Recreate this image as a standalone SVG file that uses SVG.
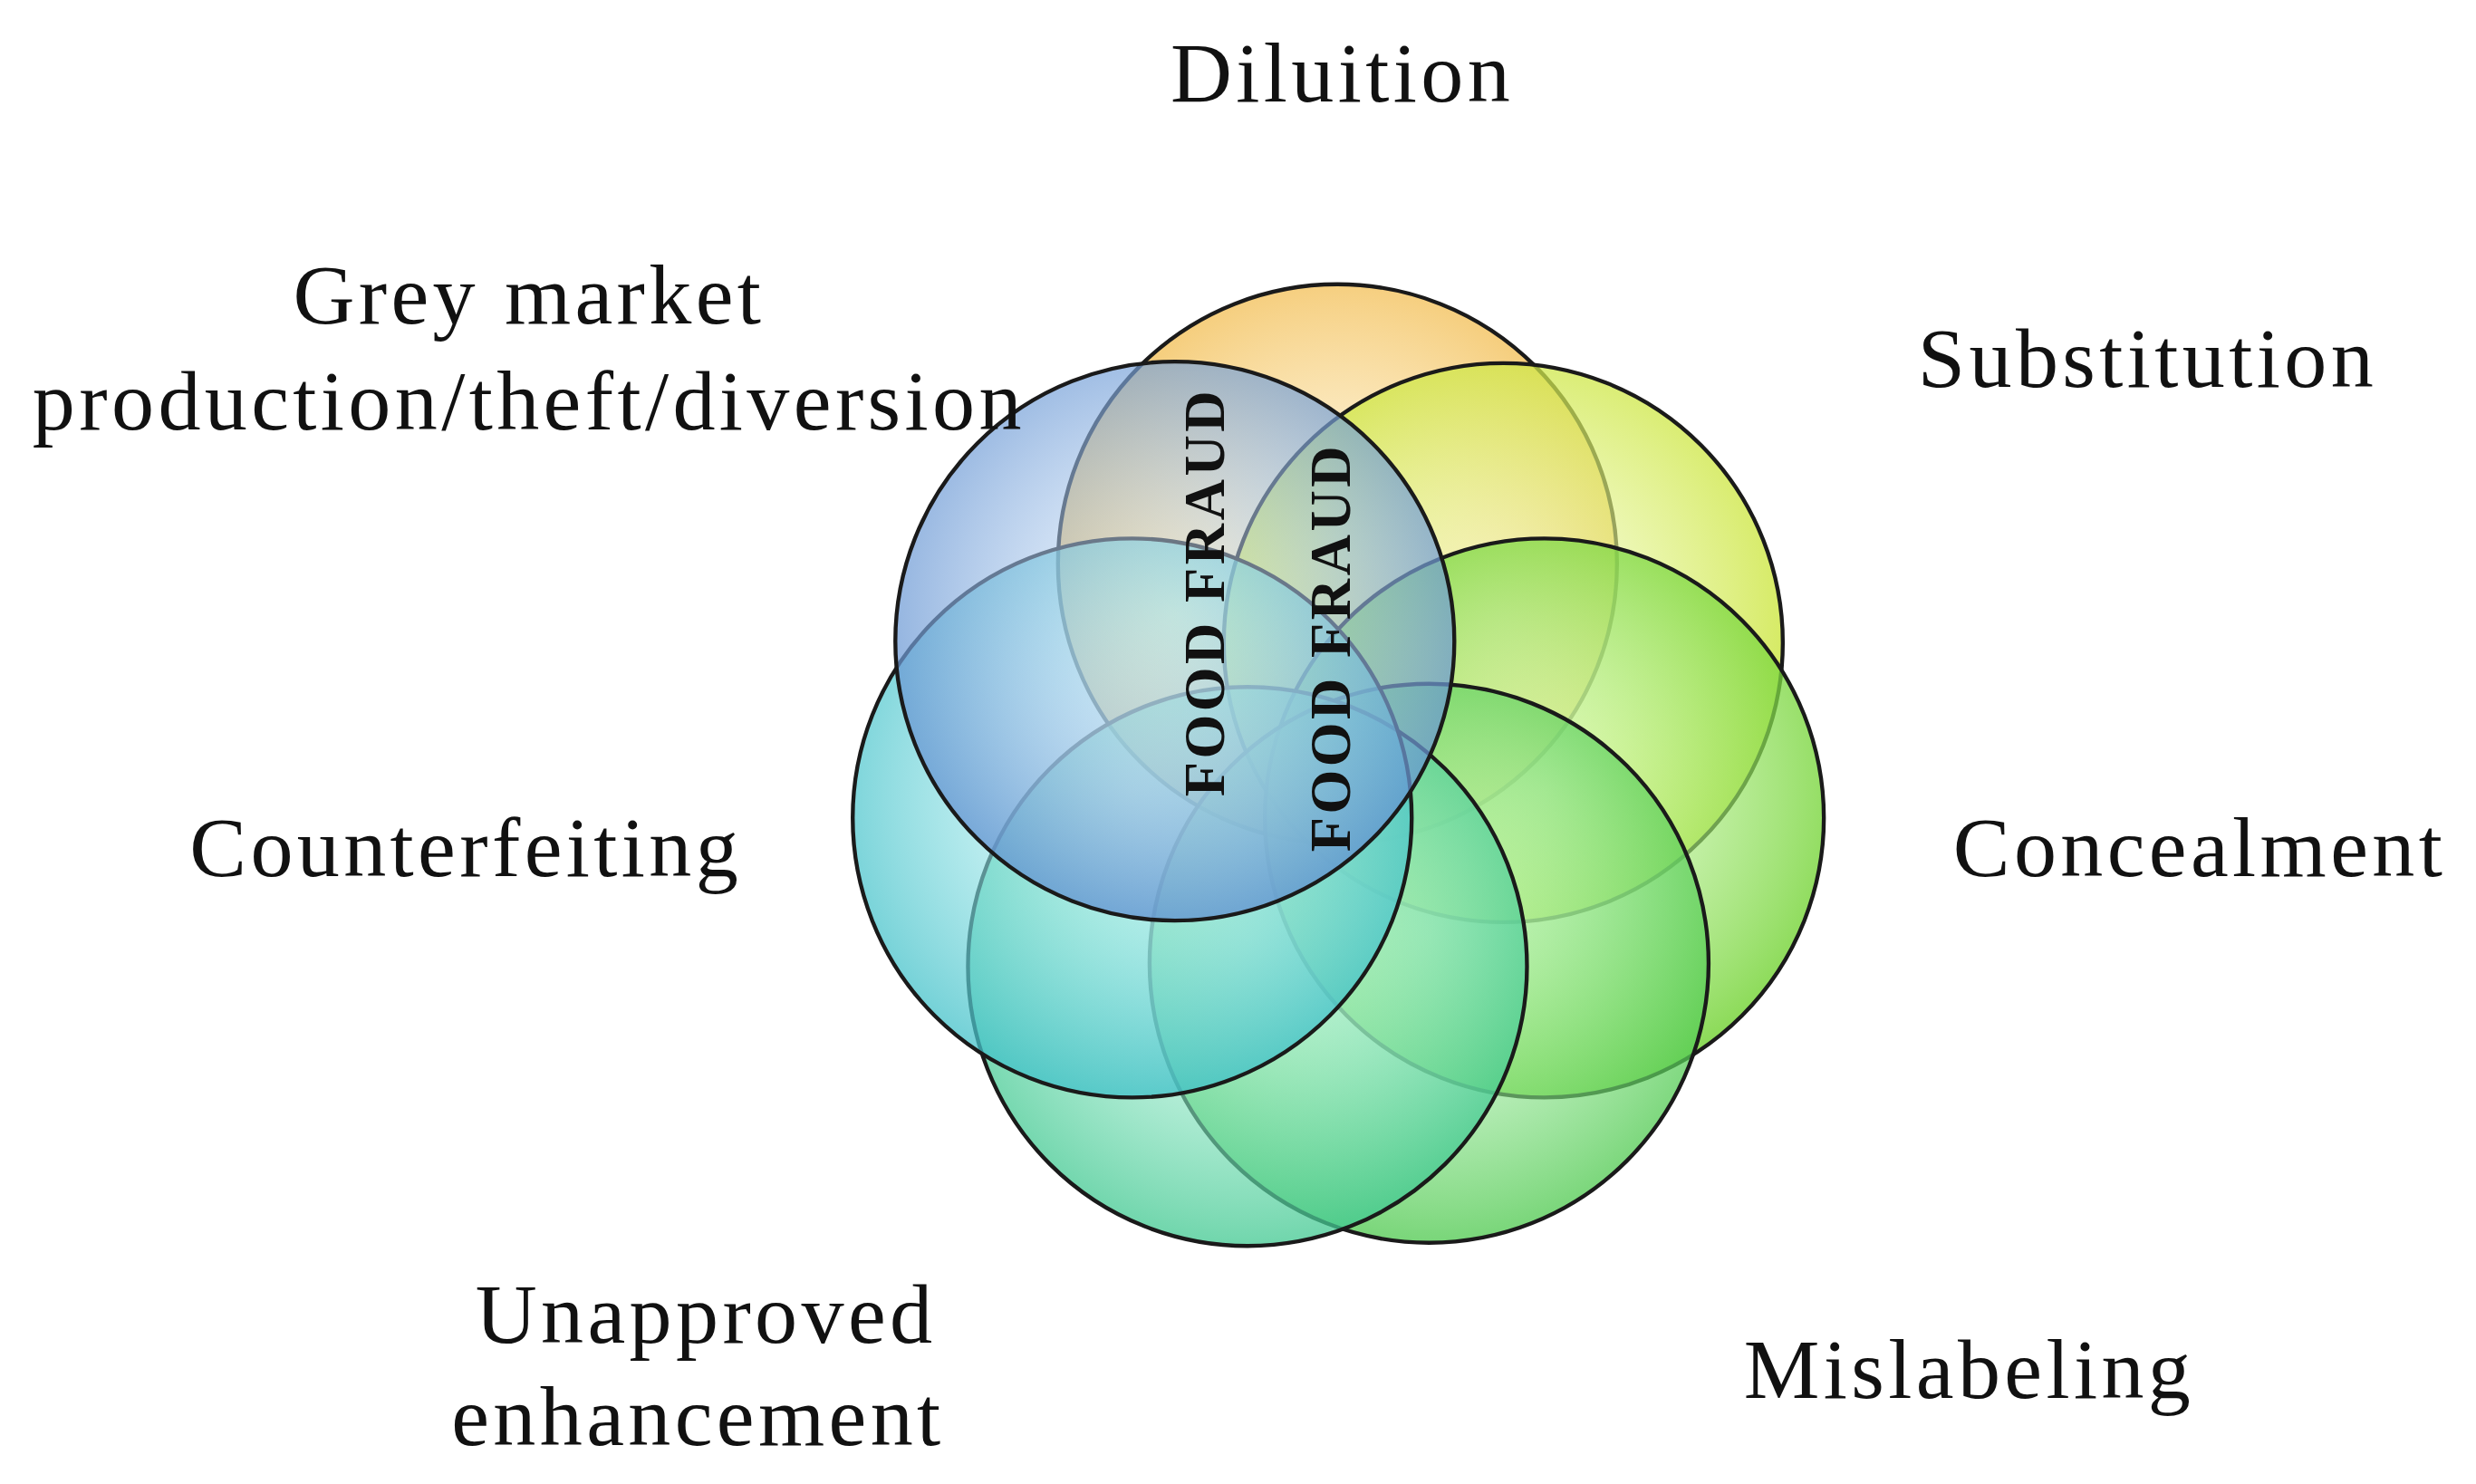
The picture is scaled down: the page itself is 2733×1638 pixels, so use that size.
<svg xmlns="http://www.w3.org/2000/svg" width="2733" height="1638" viewBox="0 0 2733 1638">
<style>
.c{stroke:#1a1a1a;stroke-width:2.5;}
.l{font-family:"Liberation Serif","DejaVu Serif",serif;font-size:54px;letter-spacing:2.5px;fill:#111;}
.f{font-family:"Liberation Serif","DejaVu Serif",serif;font-size:36px;letter-spacing:2px;font-weight:bold;fill:#111;}
</style>
<defs>
<radialGradient id="g1" cx="0.5" cy="0.45" r="0.55"><stop offset="0" stop-color="#fff6d8" stop-opacity="0.6"/><stop offset="1" stop-color="#f0b43c" stop-opacity="0.8"/></radialGradient>
<radialGradient id="g2" cx="0.5" cy="0.45" r="0.55"><stop offset="0" stop-color="#f6ffd0" stop-opacity="0.5"/><stop offset="1" stop-color="#c6e22a" stop-opacity="0.8"/></radialGradient>
<radialGradient id="g3" cx="0.5" cy="0.45" r="0.55"><stop offset="0" stop-color="#d8ffc0" stop-opacity="0.5"/><stop offset="1" stop-color="#6cd02a" stop-opacity="0.8"/></radialGradient>
<radialGradient id="g4" cx="0.5" cy="0.45" r="0.55"><stop offset="0" stop-color="#d0ffd0" stop-opacity="0.45"/><stop offset="1" stop-color="#4cc84c" stop-opacity="0.75"/></radialGradient>
<radialGradient id="g5" cx="0.5" cy="0.45" r="0.55"><stop offset="0" stop-color="#d0fff0" stop-opacity="0.45"/><stop offset="1" stop-color="#40c890" stop-opacity="0.75"/></radialGradient>
<radialGradient id="g6" cx="0.5" cy="0.45" r="0.55"><stop offset="0" stop-color="#d8ffff" stop-opacity="0.45"/><stop offset="1" stop-color="#40c0c8" stop-opacity="0.75"/></radialGradient>
<radialGradient id="g7" cx="0.5" cy="0.45" r="0.55"><stop offset="0" stop-color="#e0f0ff" stop-opacity="0.4"/><stop offset="1" stop-color="#6090d0" stop-opacity="0.75"/></radialGradient>
</defs>
<rect width="2733" height="1638" fill="#fff"/>
<g transform="scale(1.743)">
<g id="diluition"><circle class="c" cx="847" cy="357" r="177" fill="url(#g1)"/></g>
<g id="substitution"><circle class="c" cx="952" cy="407" r="177" fill="url(#g2)"/></g>
<g id="concealment"><circle class="c" cx="978" cy="518" r="177" fill="url(#g3)"/></g>
<g id="mislabeling"><circle class="c" cx="905" cy="610" r="177" fill="url(#g4)"/></g>
<g id="unapproved"><circle class="c" cx="790" cy="612" r="177" fill="url(#g5)"/></g>
<g id="counterfeiting"><circle class="c" cx="717" cy="518" r="177" fill="url(#g6)"/></g>
<g id="greymarket"><circle class="c" cx="744" cy="406" r="177" fill="url(#g7)"/></g>
<text class="f" transform="translate(775,375) rotate(-90)" text-anchor="middle">FOOD FRAUD</text>
<text class="f" transform="translate(855,410) rotate(-90)" text-anchor="middle">FOOD FRAUD</text>
<text class="l" x="850" y="64" text-anchor="middle">Diluition</text>
<text class="l" x="335" y="205" text-anchor="middle">Grey market</text>
<text class="l" x="335" y="272" text-anchor="middle">production/theft/diversion</text>
<text class="l" x="1360" y="245" text-anchor="middle">Substitution</text>
<text class="l" x="295" y="555" text-anchor="middle">Counterfeiting</text>
<text class="l" x="1393" y="555" text-anchor="middle">Concealment</text>
<text class="l" x="447" y="850" text-anchor="middle">Unapproved</text>
<text class="l" x="442" y="915" text-anchor="middle">enhancement</text>
<text class="l" x="1247" y="885" text-anchor="middle">Mislabeling</text>
</g>
</svg>
